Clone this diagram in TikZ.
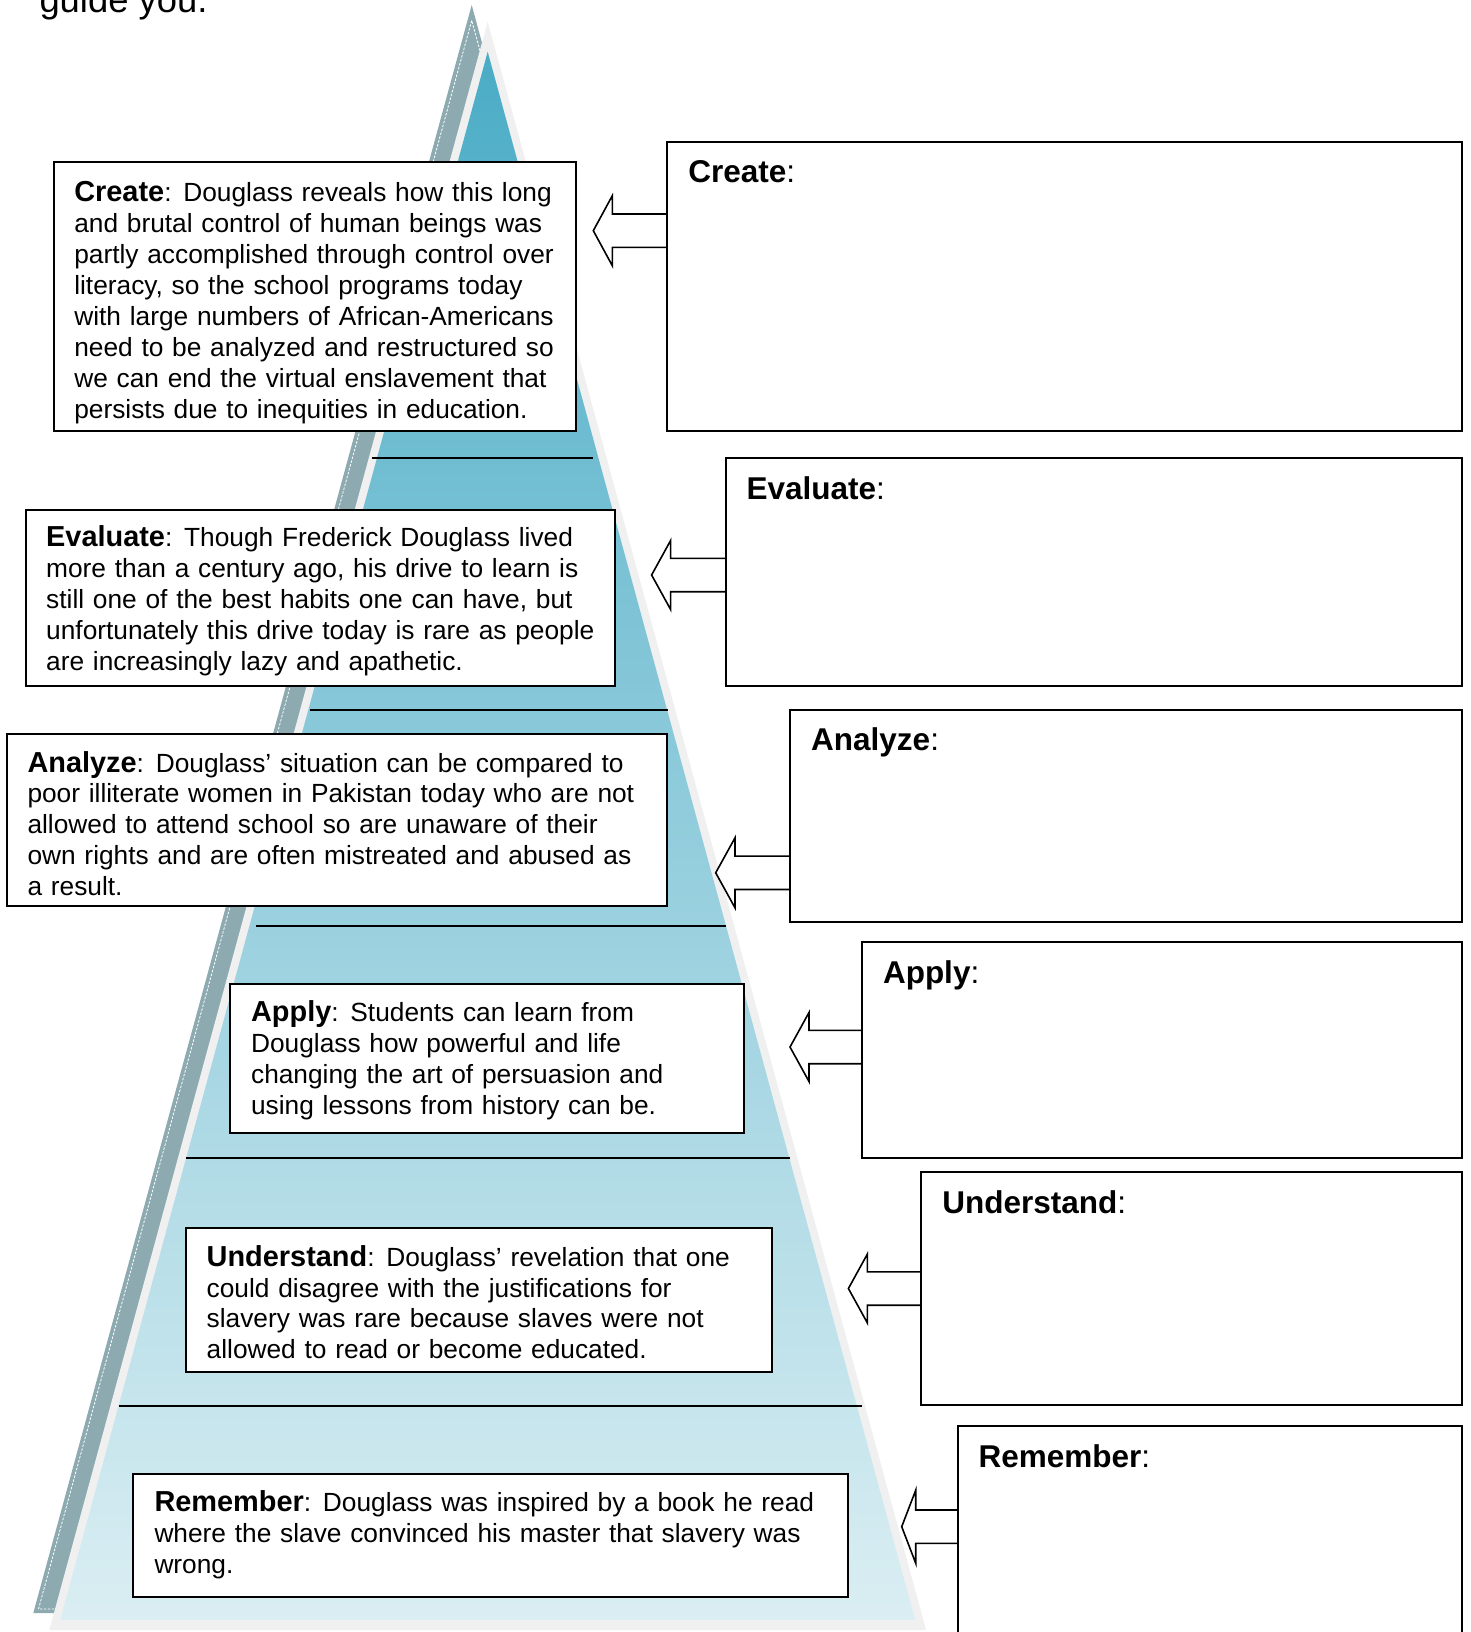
\documentclass[tikz,border=0pt]{standalone}
\usepackage{fontspec}
\setmainfont{Liberation Sans}
\usetikzlibrary{calc}

\definecolor{pyrtop}{HTML}{4BACC6}
\definecolor{pyrbot}{HTML}{DAEEF3}
\definecolor{pyrshadow}{HTML}{8DAAB1}
\definecolor{pyredge}{HTML}{F0F0F0}

\frenchspacing
\newcommand\bodysize{\fontsize{26.3}{30.9}\selectfont}
\newcommand\headsize{\fontsize{31.5}{34}\selectfont}
\newcommand\lvl[1]{{\fontsize{28.9}{30.9}\selectfont\bfseries #1}:\kern3pt\relax}
\newcommand\rlvl[1]{{\bfseries #1}:}

% block arrow pointing left from a base point on a box edge
% #1 base coordinate, #2 total length, #3 head length, #4 head half-height, #5 shaft half-height
\newcommand\blockarrow[5]{%
  \draw[arrowshape] ($(#1)+(0,-#5)$) -- ++({-(#2-#3)},0) -- ++(0,{-(#4-#5)})
    -- ++(-#3,#4) -- ++(#3,#4) -- ++(0,{-(#4-#5)}) -- ++({#2-#3},0);%
}

\tikzset{
  box/.style={draw=black, line width=2pt, fill=white, rectangle,
    inner sep=0pt, outer sep=0pt, anchor=north west},
  bodytext/.style={anchor=base west, inner sep=0pt, text width=700pt,
    align=left, font=\bodysize},
  headtext/.style={anchor=base west, inner sep=0pt, font=\headsize},
  tier/.style={line width=2pt, black},
  arrowshape/.style={draw=black, line width=1.6pt, fill=white, line join=miter},
}

\begin{document}
\begin{tikzpicture}[x=1pt,y=-1pt]
\useasboundingbox (0,0) rectangle (1471,1632);
\clip (0,0) rectangle (1471,1632);

% heading line of the page above
\node[anchor=base west, inner sep=0pt, font=\fontsize{36.4}{40}\selectfont] (guide) at (39.3,12.7) {guide you.};

% pyramid: shadow, dashed inset, light rim, shaded body
\fill[pyrshadow] (471.7,5) -- (33.3,1613) -- (910.1,1613) -- cycle;
\draw[white, line width=0.8pt, dash pattern=on 2.5pt off 1.5pt]
  (471.7,20.5) -- (38.5,1609) -- (904.9,1609) -- cycle;
\fill[pyredge] (487.7,21.7) -- (49.3,1630) -- (926.1,1630) -- cycle;
\shade[top color=pyrtop, bottom color=pyrbot]
  (487.7,51.7) -- (60.2,1620) -- (915.2,1620) -- cycle;

% tier dividers
\draw[tier] (371.7,457.8) -- (593.4,457.8);
\draw[tier] (310.2,709.7) -- (667.5,709.7);
\draw[tier] (256.1,926) -- (726,926);
\draw[tier] (185.5,1158) -- (789.5,1158);
\draw[tier] (118.5,1405.6) -- (862,1405.6);

% example boxes on the pyramid
\node[box, minimum width=521.6pt, minimum height=268.6pt] (lcreate) at (54.1,162.4) {};
\node[bodytext] (tcreate) at ($(lcreate.north west)+(20,39.3)$) {%
\lvl{Create} Douglass reveals how this long\\
and brutal control of human beings was\\
partly accomplished through control over\\
literacy, so the school programs today\\
with large numbers of African-Americans\\
need to be analyzed and restructured so\\
we can end the virtual enslavement that\\
persists due to inequities in education.};

\node[box, minimum width=589.3pt, minimum height=176pt] (leval) at (26,510.1) {};
\node[bodytext] (teval) at ($(leval.north west)+(20,36.5)$) {%
\lvl{Evaluate} Though Frederick Douglass lived\\
more than a century ago, his drive to learn is\\
still one of the best habits one can have, but\\
unfortunately this drive today is rare as people\\
are increasingly lazy and apathetic.};

\node[box, minimum width=660pt, minimum height=172.2pt] (lanalyze) at (7.3,733.6) {};
\node[bodytext] (tanalyze) at ($(lanalyze.north west)+(20,38.4)$) {%
\lvl{Analyze} Douglass’ situation can be compared to\\
poor illiterate women in Pakistan today who are not\\
allowed to attend school so are unaware of their\\
own rights and are often mistreated and abused as\\
a result.};

\node[box, minimum width=514.3pt, minimum height=148.9pt] (lapply) at (230.1,983.8) {};
\node[bodytext] (tapply) at ($(lapply.north west)+(20.8,38)$) {%
\lvl{Apply} Students can learn from\\
Douglass how powerful and life\\
changing the art of persuasion and\\
using lessons from history can be.};

\node[box, minimum width=586pt, minimum height=144pt] (lunder) at (185.5,1228.4) {};
\node[bodytext] (tunder) at ($(lunder.north west)+(21,37.7)$) {%
\lvl{Understand} Douglass’ revelation that one\\
could disagree with the justifications for\\
slavery was rare because slaves were not\\
allowed to read or become educated.};

\node[box, minimum width=714.7pt, minimum height=122.8pt] (lremem) at (133.3,1474) {};
\node[bodytext] (tremem) at ($(lremem.north west)+(21,37.7)$) {%
\lvl{Remember} Douglass was inspired by a book he read\\
where the slave convinced his master that slavery was\\
wrong.};

% answer boxes on the right
\node[box, minimum width=794.2pt, minimum height=289.4pt] (rcreate) at (667.3,141.6) {};
\node[box, minimum width=735.9pt, minimum height=228.1pt] (reval) at (725.6,458) {};
\node[box, minimum width=671.3pt, minimum height=212.3pt] (ranalyze) at (790.2,709.7) {};
\node[box, minimum width=599.5pt, minimum height=215.5pt] (rapply) at (862,942.2) {};
\node[box, minimum width=540.1pt, minimum height=233pt] (runder) at (921.4,1172.3) {};
\node[box, minimum width=504pt, minimum height=260pt] (rremem) at (957.5,1425.7) {};

\node[headtext] (hcreate) at ($(rcreate.north west)+(20.8,41)$) {\rlvl{Create}};
\node[headtext] (heval) at ($(reval.north west)+(20.8,41)$) {\rlvl{Evaluate}};
\node[headtext] (hanalyze) at ($(ranalyze.north west)+(20.8,41)$) {\rlvl{Analyze}};
\node[headtext] (happly) at ($(rapply.north west)+(20.8,41)$) {\rlvl{Apply}};
\node[headtext] (hunder) at ($(runder.north west)+(20.8,41)$) {\rlvl{Understand}};
\node[headtext] (hremem) at ($(rremem.north west)+(20.8,41.6)$) {\rlvl{Remember}};

% arrows from each answer box back to its tier
\coordinate (acreate) at ($(rcreate.north west)+(0,89.1)$);
\coordinate (aeval) at ($(reval.north west)+(0,117)$);
\coordinate (aanalyze) at ($(ranalyze.north west)+(0,163.1)$);
\coordinate (aapply) at ($(rapply.north west)+(0,104.8)$);
\coordinate (aunder) at ($(runder.north west)+(0,116.2)$);
\coordinate (aremem) at ($(rremem.north west)+(0,101)$);

\blockarrow{acreate}{74}{19}{35}{16.7}
\blockarrow{aeval}{74}{19}{34.5}{16.7}
\blockarrow{aanalyze}{74.5}{19.3}{35}{16.7}
\blockarrow{aapply}{72}{19}{34.5}{16.7}
\blockarrow{aunder}{73}{19}{34.5}{16.7}
\blockarrow{aremem}{55.8}{14}{36.5}{16.7}

% redraw the left edges of the answer boxes over the arrow ends
\draw[line width=2pt] (rcreate.north west) -- (rcreate.south west);
\draw[line width=2pt] (reval.north west) -- (reval.south west);
\draw[line width=2pt] (ranalyze.north west) -- (ranalyze.south west);
\draw[line width=2pt] (rapply.north west) -- (rapply.south west);
\draw[line width=2pt] (runder.north west) -- (runder.south west);
\draw[line width=2pt] (rremem.north west) -- (rremem.south west);
\end{tikzpicture}
\end{document}
